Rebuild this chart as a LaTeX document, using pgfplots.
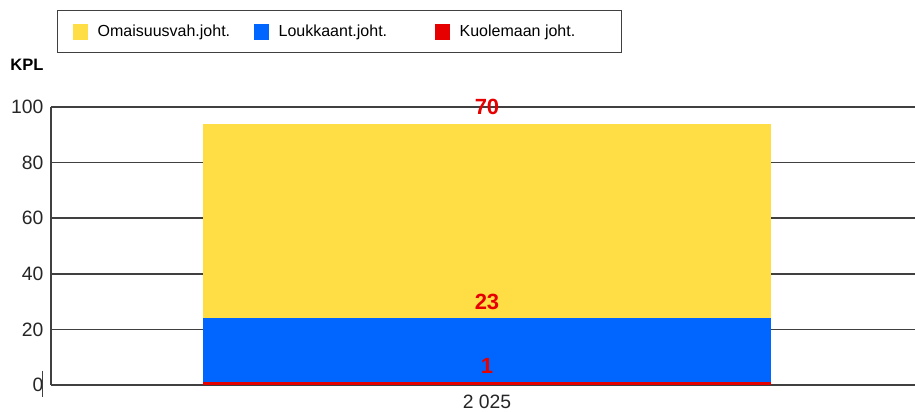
\documentclass[border=0pt]{standalone}
\usepackage{fontspec}
\setmainfont{Liberation Sans}
\usepackage{pgfplots}
\pgfplotsset{compat=1.18}
\definecolor{cyel}{RGB}{255,221,68}
\definecolor{cblu}{RGB}{0,102,255}
\definecolor{cred}{RGB}{230,0,0}
\definecolor{cax}{RGB}{64,64,64}
\pgfplotsset{sqlegend/.style={legend image code/.code={\fill[##1] (0pt,-6pt) rectangle (11.25pt,6pt); \path (18.75pt,0pt);}}}
\begin{document}
\begin{tikzpicture}
\path[use as bounding box] (-38.25pt,-21pt) rectangle (648pt,288.75pt);
\begin{axis}[
 at={(0pt,0pt)}, anchor=south west,
 scale only axis, width=648pt, height=208.5pt,
 xmin=0, xmax=864, ymin=0, ymax=100,
 ybar stacked, bar width=568,
 axis x line=bottom, axis y line=left,
 axis line style={-, draw=cax, line width=1.1pt},
 ytick={0,20,40,60,80,100},
 xtick={436}, xticklabels={\mbox{2 025}},
 major tick length=0pt,
 ymajorgrids, grid style={draw=cax, line width=1.1pt},
 tick label style={font=\fontsize{14.5}{16}\selectfont, text=black!85},
 /pgf/number format/assume math mode=true,
 yticklabel style={anchor=east, inner sep=0pt, xshift=-5.5pt},
 xticklabel style={anchor=north, inner sep=0pt, yshift=-7.5pt},
 nodes near coords,
 point meta=explicit symbolic,
 every node near coord/.append style={font=\fontsize{16.5}{18}\selectfont\bfseries, text=cred, anchor=base, inner sep=0pt, yshift=6.75pt},
 legend columns=3, reverse legend,
 legend style={at={(0.00694,1.349)}, anchor=north west, draw=cax, line width=1pt, inner xsep=11.25pt, inner ysep=9.75pt, font=\fontsize{12}{14}\selectfont, nodes={inner sep=0pt}},
]
\addplot[fill=cred, draw=none, sqlegend, every node near coord/.append style={yshift=1.04pt}] coordinates {(436,1) [1]};
\addlegendentry{\makebox[110.25pt][l]{Kuolemaan joht.}}
\addplot[fill=cblu, draw=none, sqlegend, every node near coord/.append style={yshift=23.98pt}] coordinates {(436,23) [23]};
\addlegendentry{\makebox[117pt][l]{Loukkaant.joht.}}
\addplot[fill=cyel, draw=none, sqlegend, every node near coord/.append style={yshift=72.98pt}] coordinates {(436,70) [70]};
\addlegendentry{\makebox[117pt][l]{Omaisuusvah.joht.}}
\end{axis}
\node[font=\fontsize{12.4}{14}\selectfont\bfseries, inner sep=0pt] at (-18pt,240pt) {KPL};
\draw[cax, line width=0.75pt] (-6pt,10.7pt) -- (-6pt,-9.2pt);
\end{tikzpicture}
\end{document}
